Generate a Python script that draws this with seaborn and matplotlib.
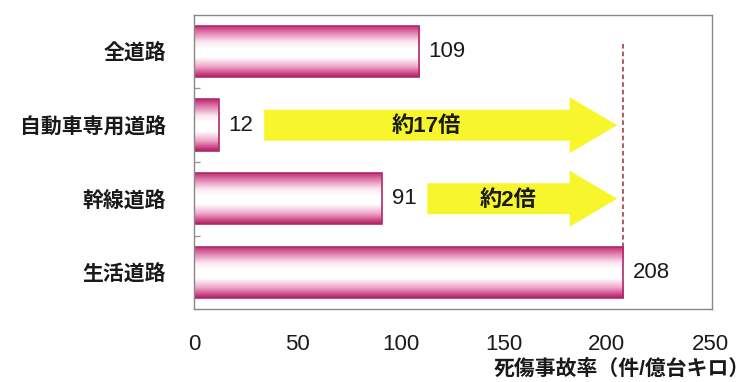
import numpy as np
import matplotlib
matplotlib.use('Agg')
import matplotlib.pyplot as plt
import seaborn as sns
from matplotlib.colors import LinearSegmentedColormap
from matplotlib.patches import FancyArrow

# データ
categories = ['全道路', '自動車専用道路', '幹線道路', '生活道路']
rates = [109, 12, 91, 208]
ratio_rows = [1, 2]            # 矢印を描く行
ratio_labels = ['約17倍', '約2倍']
x_ticks = [0, 50, 100, 150, 200, 250]
x_label = '死傷事故率（件/億台キロ）'

sns.set_theme(style='white')
plt.rcParams['font.family'] = ['Liberation Sans', 'Noto Sans CJK JP', 'DejaVu Sans']

fig = plt.figure(figsize=(7.52, 3.82), dpi=100)
ax = fig.add_axes([0.258, 0.191, 0.689, 0.770])

sns.barplot(x=rates, y=categories, orient='h', width=0.7, ax=ax,
            color='white', edgecolor='#B02A68', linewidth=1.2)

# 円柱風のグラデーション
cyl = LinearSegmentedColormap.from_list('cyl', [
    (0.00, '#B8286C'), (0.12, '#DC6FA5'), (0.32, '#FBE6F0'), (0.45, '#FFFFFF'),
    (0.62, '#FFFFFF'), (0.80, '#EFA6C9'), (0.92, '#D04E8E'), (1.00, '#A8215F')])
grad = np.linspace(0, 1, 256).reshape(-1, 1)
for p in ax.patches:
    x0, y0, w, h = p.get_x(), p.get_y(), p.get_width(), p.get_height()
    im = ax.imshow(grad, cmap=cyl, aspect='auto', origin='upper',
                   extent=(x0, x0 + w, y0 + h, y0), zorder=p.get_zorder() + 0.1)
    im.set_clip_path(p)
    p.set_zorder(p.get_zorder() + 0.2)
    p.set_facecolor('none')

ax.set_xlim(0, 251)
ax.set_ylim(3.5, -0.5)

# 値ラベル
ax.bar_label(ax.containers[0], labels=[str(v) for v in rates], padding=7,
             fontsize=16, color='#1a1a1a')

# 基準線（生活道路）
top_val = max(rates)
ax.vlines(top_val, -0.1, 3.35, colors='#A02838', linestyles=(0, (3, 2)), linewidth=1.1, zorder=1)

# 倍率の矢印
head_len = 23
tip = top_val - 3
for row, lab in zip(ratio_rows, ratio_labels):
    start = rates[row] + 22
    ax.add_patch(FancyArrow(start, row, tip - start, 0, width=0.42, head_width=0.76,
                            head_length=head_len, length_includes_head=True,
                            color='#F7F52B', lw=0, zorder=3))
    ax.text((start + tip - head_len * 0.6) / 2, row + 0.02, lab, ha='center', va='center',
            fontsize=16, fontweight='bold', color='#1a1a1a', zorder=4)

# 軸
ax.set_xticks(x_ticks)
ax.set_xticklabels([str(t) for t in x_ticks], fontsize=16, color='#1a1a1a')
ax.tick_params(axis='x', direction='in', length=5, color='#777777', pad=18)
ax.set_yticks(range(len(categories)))
ax.set_yticklabels(categories, fontsize=15, fontweight='bold', color='#1a1a1a')
ax.tick_params(axis='y', length=0, pad=20)
ax.set_yticks([0.5, 1.5, 2.5], minor=True)
ax.tick_params(axis='y', which='minor', direction='in', length=4, color='#999999', left=True)
for s in ax.spines.values():
    s.set_color('#888888')
    s.set_linewidth(1)
ax.set_xlabel('')
ax.set_ylabel('')

fig.text(0.997, 0.008, x_label, ha='right', va='bottom', fontsize=15,
         fontweight='bold', color='#1a1a1a')

fig.savefig('out.png', dpi=100)
